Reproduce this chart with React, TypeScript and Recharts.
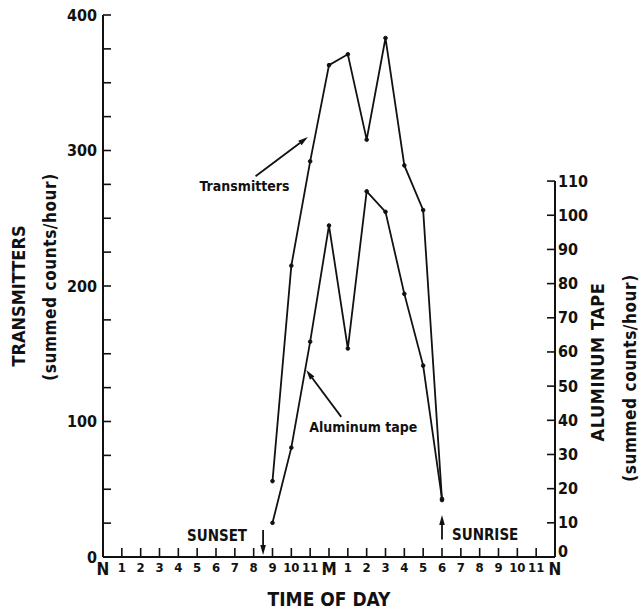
import React from 'react';
import { LineChart, Line, XAxis, YAxis, ReferenceLine } from 'recharts';

const hourLabels = ['N', '1', '2', '3', '4', '5', '6', '7', '8', '9', '10', '11', 'M', '1', '2', '3', '4', '5', '6', '7', '8', '9', '10', '11', 'N'];
const hourTicks = hourLabels.map((_, i) => i);
const sampleHours = [9, 10, 11, 12, 13, 14, 15, 16, 17, 18];
const transmitters = [56, 215, 292, 363, 371, 308, 383, 289, 256, 42];
const aluminumTape = [10, 32, 63, 97, 61, 107, 101, 77, 56, 17];
const leftTicks = [0, 25, 50, 75, 100, 125, 150, 175, 200, 225, 250, 275, 300, 325, 350, 375, 400];
const rightTicks = [0, 10, 20, 30, 40, 50, 60, 70, 80, 90, 100, 110];

const data = sampleHours.map((h, i) => ({ h, transmitters: transmitters[i], aluminum: aluminumTape[i] }));

const FONT = "'Liberation Sans Narrow', 'DejaVu Sans Condensed', 'Liberation Sans', sans-serif";
const INK = '#111';

const LeftTick = (props: any) => {
  const { x, y, payload } = props;
  return (
    <g>
      <line x1={x} y1={y} x2={x + 8} y2={y} stroke={INK} strokeWidth={1.6} />
      {payload.value % 100 === 0 && (
        <text x={x - 6} y={y} textAnchor="end" dominantBaseline="central" fontFamily={FONT} fontWeight="bold" fontSize={16} fill={INK}>
          {payload.value}
        </text>
      )}
    </g>
  );
};

const RightTick = (props: any) => {
  const { x, y, payload } = props;
  // the zero label sits just above the baseline, clear of the N below it
  const ty = payload.value === 0 ? y - 6 : y;
  return (
    <g>
      <line x1={x} y1={y} x2={x - 8} y2={y} stroke={INK} strokeWidth={1.6} />
      <text x={x + 3} y={ty} textAnchor="start" dominantBaseline="central" fontFamily={FONT} fontWeight="bold" fontSize={16} fill={INK}>
        {payload.value}
      </text>
    </g>
  );
};

const HourTick = (props: any) => {
  const { x, y, payload } = props;
  const label = hourLabels[payload.value];
  const big = label === 'N' || label === 'M';
  const inner = payload.value > 0 && payload.value < 24;
  return (
    <g>
      {inner && <line x1={x} y1={y} x2={x} y2={y - 9} stroke={INK} strokeWidth={1.6} />}
      <text x={x} y={y + (big ? 18 : 15)} textAnchor="middle" fontFamily={FONT} fontWeight="bold" fontSize={big ? 17 : 13} fill={INK}>
        {label}
      </text>
    </g>
  );
};

const arrow = (text?: string, dx = 0, dy = 0, anchor = 'middle', size = 14) => (props: any) => {
  const { x1, y1, x2, y2 } = props;
  const a = Math.atan2(y2 - y1, x2 - x1);
  const L = 10;
  const W = 2.8;
  const bx = x2 - L * Math.cos(a);
  const by = y2 - L * Math.sin(a);
  const pts = `${x2},${y2} ${bx + W * Math.sin(a)},${by - W * Math.cos(a)} ${bx - W * Math.sin(a)},${by + W * Math.cos(a)}`;
  return (
    <g>
      <line x1={x1} y1={y1} x2={bx} y2={by} stroke={INK} strokeWidth={1.8} />
      <polygon points={pts} fill={INK} />
      {text && (
        <text x={x1 + dx} y={y1 + dy} textAnchor={anchor} fontFamily={FONT} fontWeight="bold" fontSize={size} fill={INK}>
          {text}
        </text>
      )}
    </g>
  );
};

const LeftTitle = () => (
  <g fontFamily={FONT} fontWeight="bold" fill={INK}>
    <text transform="translate(18,296) rotate(-90)" textAnchor="middle" dominantBaseline="central" fontSize={18}>
      TRANSMITTERS
    </text>
    <text transform="translate(50,277) rotate(-90)" textAnchor="middle" dominantBaseline="central" fontSize={17} letterSpacing={0.6}>
      (summed counts/hour)
    </text>
  </g>
);

const RightTitle = () => (
  <g fontFamily={FONT} fontWeight="bold" fill={INK}>
    <text transform="translate(597,362) rotate(-90)" textAnchor="middle" dominantBaseline="central" fontSize={18} letterSpacing={0.6}>
      ALUMINUM TAPE
    </text>
    <text transform="translate(630,378) rotate(-90)" textAnchor="middle" dominantBaseline="central" fontSize={17} letterSpacing={0.6}>
      (summed counts/hour)
    </text>
  </g>
);

export default function App() {
  return (
    <div style={{ position: 'absolute', left: 0, top: 0, width: 641, height: 610, background: '#fff' }}>
      <LineChart width={641} height={610} data={data} margin={{ top: 15, right: 0, bottom: 0, left: 0 }}>
        <XAxis
          dataKey="h"
          type="number"
          domain={[0, 24]}
          ticks={hourTicks}
          interval={0}
          height={53}
          tickSize={0}
          tickMargin={0}
          tickLine={false}
          tick={<HourTick />}
          axisLine={{ stroke: INK, strokeWidth: 2 }}
          label={{
            value: 'TIME OF DAY',
            position: 'insideBottom',
            offset: 4,
            fontFamily: FONT,
            fontWeight: 'bold',
            fontSize: 19,
            fill: INK,
          }}
        />
        <YAxis
          yAxisId="left"
          orientation="left"
          width={103}
          domain={[0, 400]}
          ticks={leftTicks}
          interval={0}
          tickSize={0}
          tickMargin={0}
          tickLine={false}
          tick={<LeftTick />}
          axisLine={{ stroke: INK, strokeWidth: 2 }}
          label={{ content: () => <LeftTitle /> }}
        />
        <YAxis
          yAxisId="right"
          orientation="right"
          width={86}
          domain={[0, 158.6]}
          ticks={rightTicks}
          interval={0}
          tickSize={0}
          tickMargin={0}
          tickLine={false}
          tick={<RightTick />}
          axisLine={false}
          label={{ content: () => <RightTitle /> }}
        />
        <ReferenceLine
          yAxisId="right"
          segment={[{ x: 24, y: 0 }, { x: 24, y: 110 }]}
          stroke={INK}
          strokeWidth={2}
        />
        <ReferenceLine
          yAxisId="left"
          segment={[{ x: 8.1, y: 281 }, { x: 10.88, y: 310 }]}
          shape={arrow('Transmitters', -11, 15, 'middle', 14)}
        />
        <ReferenceLine
          yAxisId="right"
          segment={[{ x: 12.65, y: 41 }, { x: 10.79, y: 54.7 }]}
          shape={arrow('Aluminum tape', 22, 15, 'middle', 14)}
        />
        <ReferenceLine
          yAxisId="left"
          segment={[{ x: 8.5, y: 20 }, { x: 8.5, y: 1.5 }]}
          shape={arrow('SUNSET', -16, 11, 'end', 15)}
        />
        <ReferenceLine
          yAxisId="left"
          segment={[{ x: 18, y: 13 }, { x: 18, y: 31 }]}
          shape={arrow('SUNRISE', 10, 1, 'start', 15)}
        />
        <Line
          yAxisId="left"
          type="linear"
          dataKey="transmitters"
          stroke={INK}
          strokeWidth={1.8}
          dot={{ r: 1.8, fill: INK, stroke: INK, strokeWidth: 1 }}
          isAnimationActive={false}
        />
        <Line
          yAxisId="right"
          type="linear"
          dataKey="aluminum"
          stroke={INK}
          strokeWidth={1.8}
          dot={{ r: 1.8, fill: INK, stroke: INK, strokeWidth: 1 }}
          isAnimationActive={false}
        />
      </LineChart>
    </div>
  );
}
